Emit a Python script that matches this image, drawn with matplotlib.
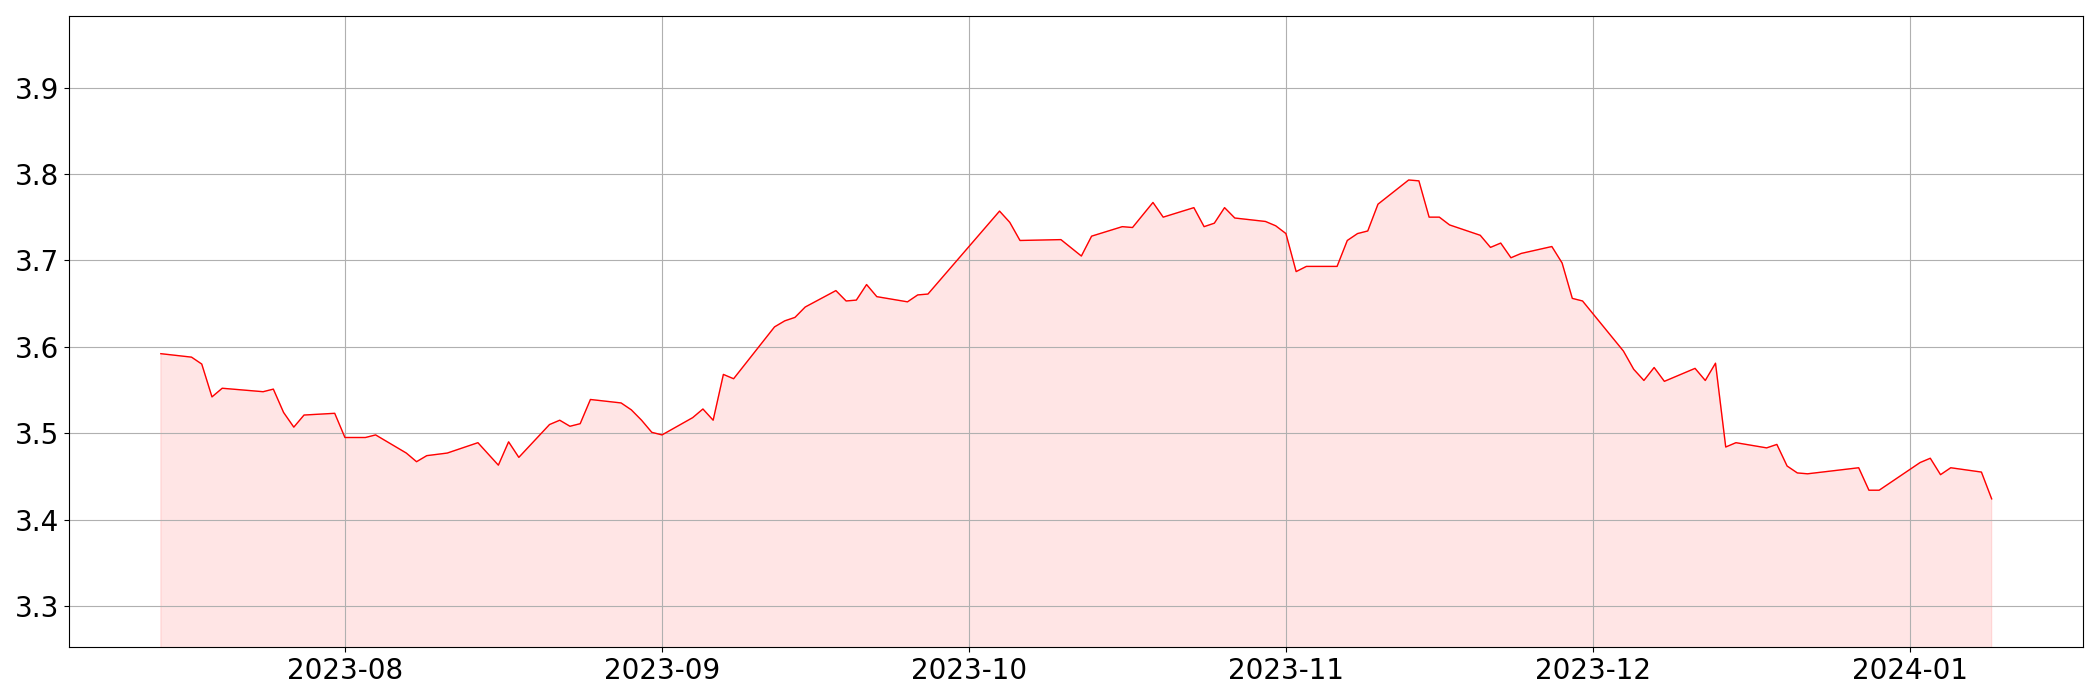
import matplotlib
matplotlib.use('Agg')
from matplotlib import pyplot as plt
import pandas as pd

dates = [
	'2023-07-14', '2023-07-17', '2023-07-18', '2023-07-19', '2023-07-20',
	'2023-07-24', '2023-07-25', '2023-07-26', '2023-07-27', '2023-07-28',
	'2023-07-31', '2023-08-01', '2023-08-03', '2023-08-04', '2023-08-07',
	'2023-08-08', '2023-08-09', '2023-08-11', '2023-08-14', '2023-08-16',
	'2023-08-17', '2023-08-18', '2023-08-21', '2023-08-22', '2023-08-23',
	'2023-08-24', '2023-08-25', '2023-08-28', '2023-08-29', '2023-08-30',
	'2023-08-31', '2023-09-01', '2023-09-04', '2023-09-05', '2023-09-06',
	'2023-09-07', '2023-09-08', '2023-09-12', '2023-09-13', '2023-09-14',
	'2023-09-15', '2023-09-18', '2023-09-19', '2023-09-20', '2023-09-21',
	'2023-09-22', '2023-09-25', '2023-09-26', '2023-09-27', '2023-10-04',
	'2023-10-05', '2023-10-06', '2023-10-10', '2023-10-12', '2023-10-13',
	'2023-10-16', '2023-10-17', '2023-10-19', '2023-10-20', '2023-10-23',
	'2023-10-24', '2023-10-25', '2023-10-26', '2023-10-27', '2023-10-30',
	'2023-10-31', '2023-11-01', '2023-11-02', '2023-11-03', '2023-11-06',
	'2023-11-07', '2023-11-08', '2023-11-09', '2023-11-10', '2023-11-13',
	'2023-11-14', '2023-11-15', '2023-11-16', '2023-11-17', '2023-11-20',
	'2023-11-21', '2023-11-22', '2023-11-23', '2023-11-24', '2023-11-27',
	'2023-11-28', '2023-11-29', '2023-11-30', '2023-12-04', '2023-12-05',
	'2023-12-06', '2023-12-07', '2023-12-08', '2023-12-11', '2023-12-12',
	'2023-12-13', '2023-12-14', '2023-12-15', '2023-12-18', '2023-12-19',
	'2023-12-20', '2023-12-21', '2023-12-22', '2023-12-27', '2023-12-28',
	'2023-12-29', '2024-01-02', '2024-01-03', '2024-01-04', '2024-01-05',
	'2024-01-08', '2024-01-09',
]

values = [
	3.592, 3.588, 3.580, 3.542, 3.552,
	3.548, 3.551, 3.524, 3.507, 3.521,
	3.523, 3.495, 3.495, 3.498, 3.477,
	3.467, 3.474, 3.477, 3.489, 3.463,
	3.490, 3.472, 3.510, 3.515, 3.508,
	3.511, 3.539, 3.535, 3.527, 3.515,
	3.501, 3.498, 3.518, 3.528, 3.515,
	3.568, 3.563, 3.623, 3.630, 3.634,
	3.646, 3.665, 3.653, 3.654, 3.672,
	3.658, 3.652, 3.660, 3.661, 3.757,
	3.744, 3.723, 3.724, 3.705, 3.728,
	3.739, 3.738, 3.767, 3.750, 3.761,
	3.739, 3.743, 3.761, 3.749, 3.745,
	3.740, 3.731, 3.687, 3.693, 3.693,
	3.723, 3.731, 3.734, 3.765, 3.793,
	3.792, 3.750, 3.750, 3.741, 3.729,
	3.715, 3.720, 3.703, 3.708, 3.716,
	3.697, 3.656, 3.653, 3.595, 3.574,
	3.561, 3.576, 3.560, 3.575, 3.561,
	3.581, 3.484, 3.489, 3.483, 3.487,
	3.462, 3.454, 3.453, 3.460, 3.434,
	3.434, 3.466, 3.471, 3.452, 3.460,
	3.455, 3.424,
]

def main():
	x = pd.to_datetime(dates)
	y = values

	fig, ax = plt.subplots(figsize=(21, 7), dpi=100)
	ax.plot(x, y, color='red', linewidth=1)
	ax.fill_between(x, y, 0, color='red', alpha=0.1)
	ax.set_ylim(min(y) * 0.95, max(y) * 1.05)
	ax.grid(True)
	ax.tick_params(labelsize=20)

	fig.subplots_adjust(left=0.033, right=0.992, bottom=0.076, top=0.977)
	fig.savefig('out.png')

if __name__ == "__main__":
	main()
